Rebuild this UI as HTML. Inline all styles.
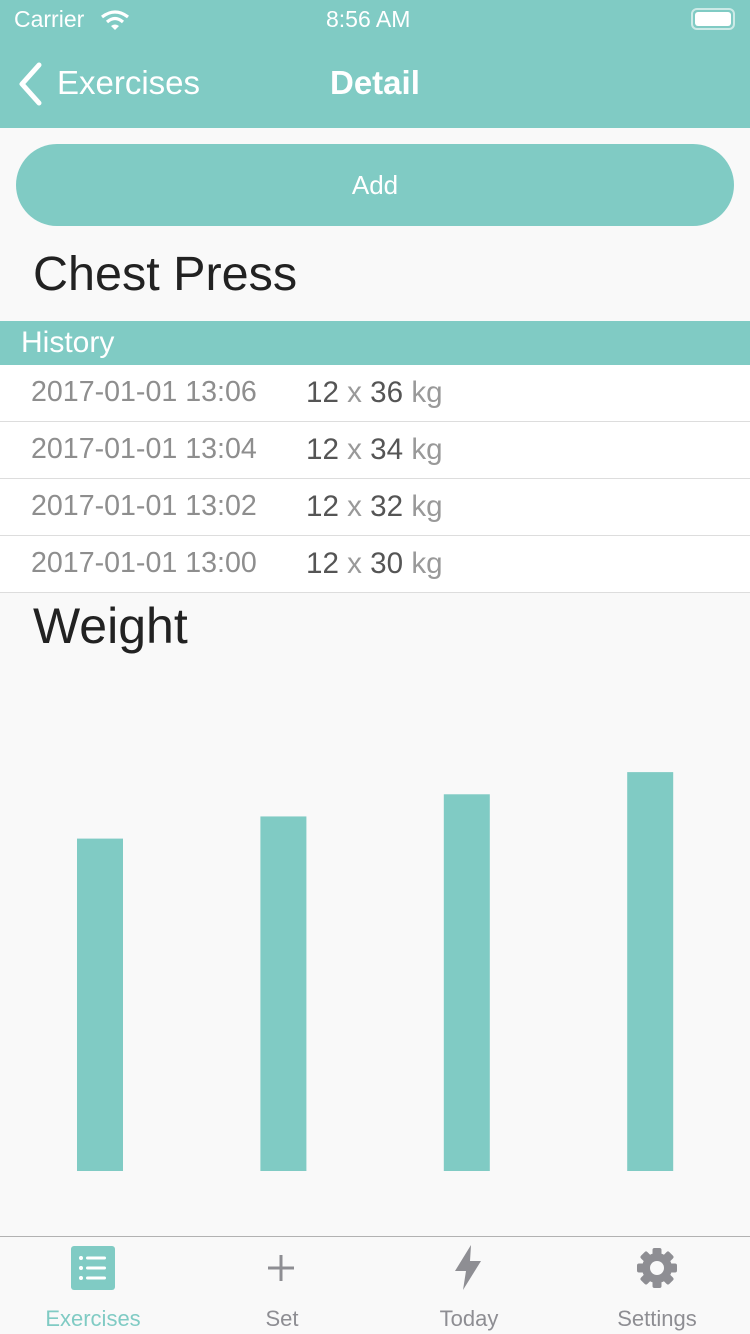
<!DOCTYPE html>
<html><head><meta charset="utf-8"><style>
*{margin:0;padding:0;box-sizing:border-box}
body{width:750px;height:1334px;background:#f9f9f9;font-family:"Liberation Sans",sans-serif;position:relative;overflow:hidden}
.abs{position:absolute}
.nav{left:0;top:0;width:750px;height:128px;background:#80cbc4;color:#fff}
.row{left:0;width:750px;height:57px;background:#fff;border-bottom:1px solid #ddd}
.date{left:31px;top:11px;font-size:28.6px;color:#8e8e8e}
.val{left:306px;top:11px;font-size:29.6px;color:#555}
.val span{color:#999}
.tab{top:1306px;font-size:22px;color:#8e8e93;transform:translateX(-50%);white-space:nowrap}
</style></head><body>
<div class="abs nav">
  <div class="abs" style="left:14px;top:6px;font-size:23px">Carrier</div>
  <svg class="abs" style="left:100px;top:9px" width="30" height="22"><path d="M2 8 Q15 -2 28 8" stroke="#fff" stroke-width="3.2" fill="none"/><path d="M7 13 Q15 6 23 13" stroke="#fff" stroke-width="3.2" fill="none"/><path d="M11 17 L15 21 L19 17 Q15 14 11 17Z" fill="#fff"/></svg>
  <div class="abs" style="left:326px;top:6px;font-size:23px">8:56 AM</div>
  <div class="abs" style="left:691px;top:8px;width:44px;height:22px;border:2px solid rgba(255,255,255,.6);border-radius:6px;padding:2px"><div style="width:100%;height:100%;background:#fff;border-radius:3px"></div></div>
  <svg class="abs" style="left:14px;top:62px" width="30" height="44"><path d="M25 3 L8 22 L25 41" stroke="#fff" stroke-width="5" fill="none" stroke-linecap="round" stroke-linejoin="round"/></svg>
  <div class="abs" style="left:57px;top:64px;font-size:33px">Exercises</div>
  <div class="abs" style="left:330px;top:64px;font-size:33px;font-weight:bold">Detail</div>
</div>
<div class="abs" style="left:16px;top:144px;width:718px;height:82px;border-radius:41px;background:#80cbc4;color:#fff;font-size:26px;text-align:center;line-height:82px">Add</div>
<div class="abs" style="left:33px;top:246px;font-size:48.5px;color:#222">Chest Press</div>
<div class="abs" style="left:0;top:321px;width:750px;height:44px;background:#80cbc4;color:#fff;font-size:30px;padding-left:21px;line-height:44px">History</div>
<div class="abs row" style="top:365px"><div class="abs date">2017-01-01 13:06</div><div class="abs val">12 <span>x</span> 36 <span>kg</span></div></div>
<div class="abs row" style="top:422px"><div class="abs date">2017-01-01 13:04</div><div class="abs val">12 <span>x</span> 34 <span>kg</span></div></div>
<div class="abs row" style="top:479px"><div class="abs date">2017-01-01 13:02</div><div class="abs val">12 <span>x</span> 32 <span>kg</span></div></div>
<div class="abs row" style="top:536px"><div class="abs date">2017-01-01 13:00</div><div class="abs val">12 <span>x</span> 30 <span>kg</span></div></div>
<div class="abs" style="left:33px;top:597px;font-size:50px;color:#222">Weight</div>
<svg id="chart" class="abs" style="left:0;top:0" width="750" height="1334"></svg>
<div class="abs" style="left:0;top:1236px;width:750px;height:98px;border-top:1px solid #b2b2b2;background:#f9f9f9"></div>
<svg class="abs" style="left:71px;top:1246px" width="44" height="44"><rect width="44" height="44" rx="3" fill="#80cbc4"/><g fill="#fff"><circle cx="10" cy="12" r="2"/><circle cx="10" cy="22" r="2"/><circle cx="10" cy="32" r="2"/><rect x="15" y="10.5" width="20" height="3" rx="1.5"/><rect x="15" y="20.5" width="20" height="3" rx="1.5"/><rect x="15" y="30.5" width="20" height="3" rx="1.5"/></g></svg>
<div class="abs tab" style="left:93px;color:#80cbc4">Exercises</div>
<svg class="abs" style="left:266px;top:1253px" width="30" height="30"><path d="M15 2V28M2 15H28" stroke="#8e8e93" stroke-width="3"/></svg>
<div class="abs tab" style="left:282px">Set</div>
<svg class="abs" style="left:452px;top:1244px" width="32" height="48"><path d="M19 1 L3 27 L14 27 L11 46 L29 17 L18 17 Z" fill="#8e8e93"/></svg>
<div class="abs tab" style="left:469px">Today</div>
<svg class="abs" style="left:636px;top:1247px" width="42" height="42" viewBox="-21 -21 42 42"><g fill="#8e8e93"><circle r="15"/><rect x="-4.5" y="-20" width="9" height="40" rx="2"/><rect x="-4.5" y="-20" width="9" height="40" rx="2" transform="rotate(45)"/><rect x="-4.5" y="-20" width="9" height="40" rx="2" transform="rotate(90)"/><rect x="-4.5" y="-20" width="9" height="40" rx="2" transform="rotate(135)"/></g><circle r="7" fill="#f9f9f9"/></svg>
<div class="abs tab" style="left:657px">Settings</div>
<script>
const categories = ["13:00","13:02","13:04","13:06"];
const weights = [30, 32, 34, 36];
const svg = document.getElementById('chart');
const baseY = 1171, pxPerKg = 11.08;
function xScale(i){ return 100 + i * 183.4; }
function yScale(v){ return baseY - v * pxPerKg; }
weights.forEach((w, i) => {
  const r = document.createElementNS('http://www.w3.org/2000/svg', 'rect');
  r.setAttribute('x', xScale(i) - 23);
  r.setAttribute('y', yScale(w));
  r.setAttribute('width', 46);
  r.setAttribute('height', baseY - yScale(w));
  r.setAttribute('fill', '#80cbc4');
  
  
  svg.appendChild(r);
});
</script>
</body></html>
